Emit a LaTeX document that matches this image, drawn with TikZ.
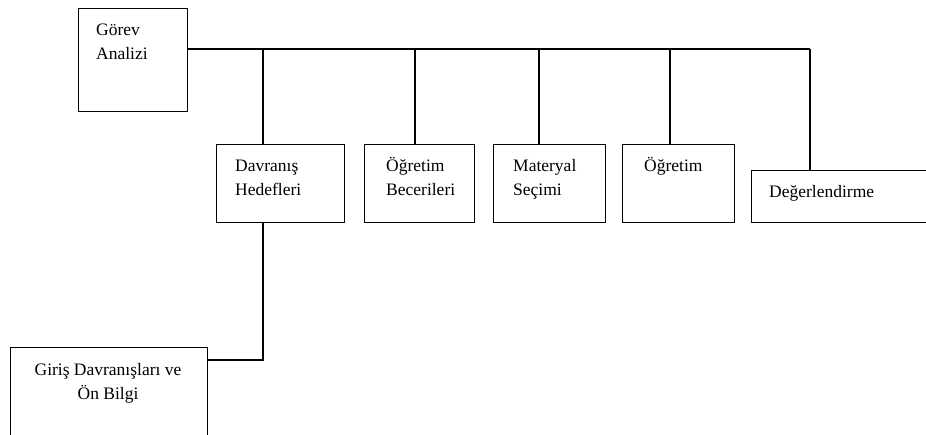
\documentclass[tikz,border=0pt]{standalone}
\usepackage{fontspec}
\setmainfont{Liberation Serif}
\usetikzlibrary{positioning}

\tikzset{
    kutu/.style={draw, line width=1.4pt, inner sep=0pt, anchor=north west},
    yazi/.style={anchor=base west, inner sep=0pt, align=left, font=\fontsize{17.5}{24}\selectfont},
    hat/.style={line width=1.4pt}
}

\begin{document}
\begin{tikzpicture}[x=1pt,y=-1pt]
\useasboundingbox (0,0) rectangle (926,434);

\foreach \n/\x/\y/\w/\h in {gorev/78/8/109/103, davranis/216/144/128/78, ogretimb/364/144/110/78, materyal/493/144/112/78, ogretim/622/144/112/78, deger/751/170/220/52, giris/10/347/197/120} {
    \node[kutu, minimum width=\w, minimum height=\h] (\n) at (\x,\y) {};
}

% multi-line texts sit on the baseline of their last line
\node[yazi] (gorev-t) at (96,59) {Görev\\Analizi};
\node[yazi] (davranis-t) at (235,195) {Davranış\\Hedefleri};
\node[yazi] (ogretimb-t) at (386,195) {Öğretim\\Becerileri};
\node[yazi] (materyal-t) at (513,195) {Materyal\\Seçimi};
\node[yazi] (ogretim-t) at (644,171) {Öğretim};
\node[yazi] (deger-t) at (769,197) {Değerlendirme};
\node[yazi, anchor=base, align=center] (giris-t) at (108,399) {Giriş Davranışları ve\\Ön Bilgi};

\coordinate (bus) at (0,49);
\foreach \n/\dx in {davranis/47, ogretimb/51, materyal/46, ogretim/48, deger/59} {
    \coordinate (\n-ust) at ([xshift=\dx]\n.north west);
    \draw[hat] (\n-ust) -- (\n-ust |- bus);
}
\draw[hat] (gorev.east |- bus) -- (deger-ust |- bus);

\coordinate (davranis-alt) at ([xshift=47]davranis.south west);
\draw[hat] ([yshift=-13]giris.north east) -| (davranis-alt);
\end{tikzpicture}
\end{document}
